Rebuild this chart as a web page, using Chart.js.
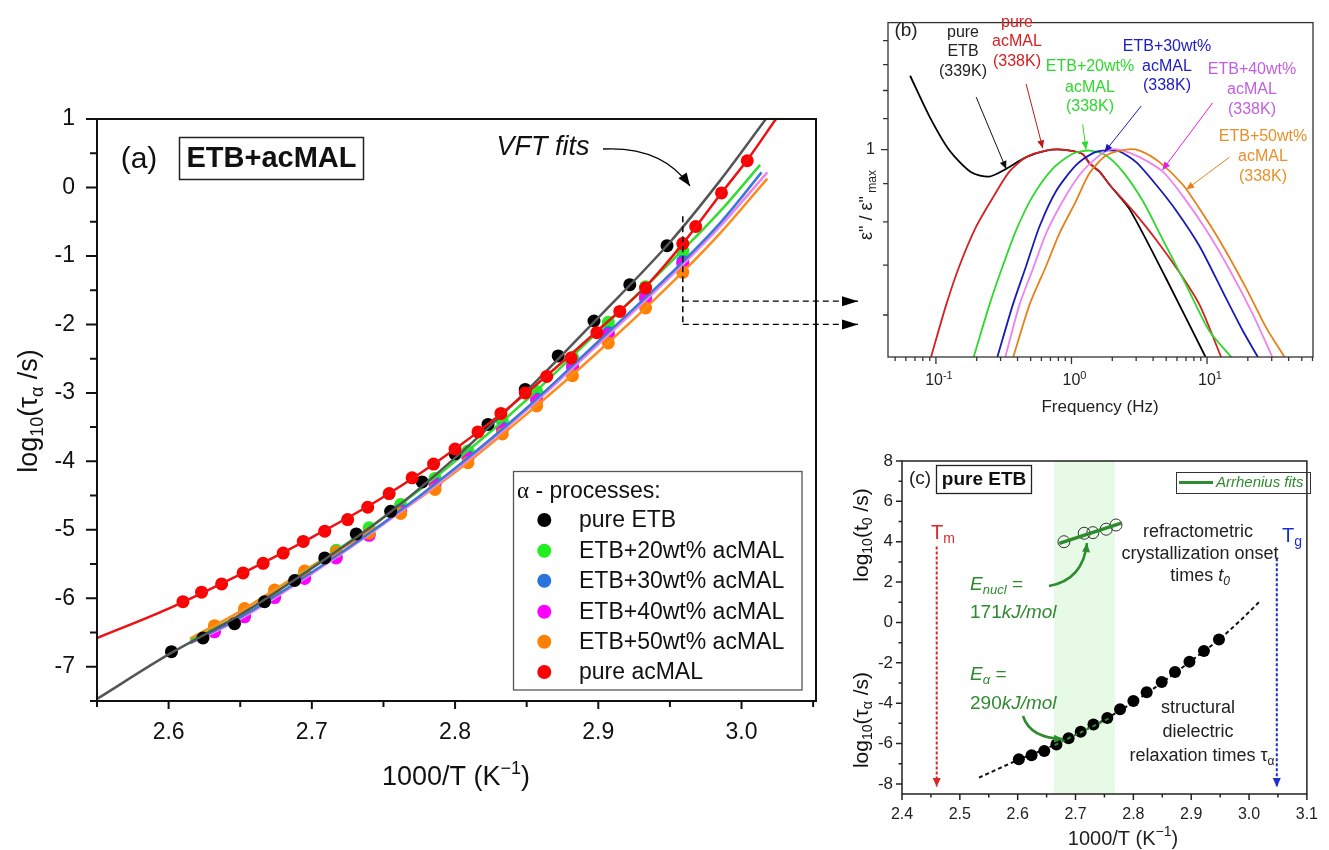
<!DOCTYPE html>
<html>
<head>
<meta charset="utf-8">
<script src="https://cdn.jsdelivr.net/npm/chart.js@4.4.1/dist/chart.umd.min.js"></script>
<style>
  html, body { margin: 0; padding: 0; background: #fff; }
  #wrap { position: relative; width: 1329px; height: 850px; }
  #wrap canvas { position: absolute; left: 0; top: 0; }
</style>
</head>
<body>
<div id="wrap">
  <canvas id="chartA" width="1329" height="850"></canvas>
  <canvas id="chartB" width="1329" height="850"></canvas>
  <canvas id="chartC" width="1329" height="850"></canvas>
</div>
<script>
const SANS = '"Liberation Sans", Arial, sans-serif';
const SERIF = '"Liberation Serif", "Times New Roman", serif';
const W = 1329, H = 850;

// ---------- (a) alpha relaxation map ----------
const seriesNames = ['pure ETB', 'ETB+20wt% acMAL', 'ETB+30wt% acMAL', 'ETB+40wt% acMAL', 'ETB+50wt% acMAL', 'pure acMAL'];
const dotColors = ['#000000', '#22ee22', '#2a72dc', '#ff00ff', '#ff8000', '#ff0000'];
const fitColors = ['#555555', '#33dd33', '#3a78d8', '#ee82ee', '#ff8c1a', '#ee1111'];

const etbX = [2.602, 2.624, 2.646, 2.667, 2.688, 2.709, 2.731, 2.755, 2.777, 2.800, 2.823, 2.849, 2.872, 2.897, 2.922, 2.948];
const etbY = [-6.78, -6.58, -6.37, -6.05, -5.74, -5.41, -5.06, -4.73, -4.30, -3.89, -3.46, -2.95, -2.46, -1.95, -1.42, -0.85];

const mixX = [2.632, 2.653, 2.674, 2.695, 2.717, 2.740, 2.762, 2.786, 2.809, 2.833, 2.857, 2.882, 2.907, 2.933, 2.959];
const mix20Y = [-6.43, -6.20, -5.92, -5.62, -5.30, -4.97, -4.63, -4.25, -3.85, -3.41, -2.98, -2.48, -1.97, -1.45, -0.93];
const mix30Y = [-6.48, -6.25, -5.97, -5.70, -5.40, -5.07, -4.71, -4.32, -3.93, -3.51, -3.09, -2.60, -2.12, -1.60, -1.08];
const mix40Y = [-6.49, -6.27, -5.99, -5.71, -5.41, -5.08, -4.73, -4.34, -3.95, -3.53, -3.11, -2.63, -2.15, -1.63, -1.11];
const mix50Y = [-6.40, -6.15, -5.88, -5.60, -5.32, -5.05, -4.76, -4.41, -4.02, -3.60, -3.19, -2.75, -2.27, -1.76, -1.24];

const malX = [2.610, 2.623, 2.637, 2.652, 2.666, 2.680, 2.694, 2.709, 2.725, 2.739, 2.754, 2.770, 2.785, 2.800, 2.816, 2.832, 2.849, 2.864, 2.881, 2.899, 2.915, 2.933, 2.959, 2.968, 2.986, 3.004];
const malY = [-6.05, -5.91, -5.79, -5.63, -5.49, -5.34, -5.17, -5.02, -4.85, -4.67, -4.47, -4.24, -4.04, -3.82, -3.57, -3.30, -3.00, -2.76, -2.49, -2.12, -1.81, -1.47, -0.82, -0.57, -0.08, 0.39];

// VFT fit curves
const etbFitX = [2.533, 2.55, 2.60, 2.65, 2.70, 2.75, 2.80, 2.85, 2.90, 2.95, 2.985, 3.017];
const etbFitY = [-7.69, -7.47, -6.82, -6.24, -5.56, -4.82, -3.95, -2.97, -1.90, -0.80, 0.10, 1.0];
const mix20FitX = [2.615, 2.65, 2.70, 2.75, 2.80, 2.85, 2.90, 2.95, 2.985, 3.013];
const mix20FitY = [-6.62, -6.24, -5.55, -4.82, -4.00, -3.10, -2.10, -1.10, -0.35, 0.33];
const mix30FitX = [2.615, 2.65, 2.70, 2.75, 2.80, 2.85, 2.90, 2.95, 2.985, 3.014];
const mix30FitY = [-6.65, -6.28, -5.62, -4.90, -4.10, -3.22, -2.25, -1.27, -0.52, 0.22];
const mix40FitX = [2.615, 2.65, 2.70, 2.75, 2.80, 2.85, 2.90, 2.95, 2.985, 3.018];
const mix40FitY = [-6.66, -6.30, -5.64, -4.92, -4.13, -3.25, -2.29, -1.31, -0.57, 0.22];
const mix50FitX = [2.615, 2.65, 2.70, 2.75, 2.80, 2.85, 2.90, 2.95, 2.985, 3.018];
const mix50FitY = [-6.59, -6.19, -5.53, -4.90, -4.16, -3.31, -2.40, -1.42, -0.67, 0.13];
const malFitX = [2.55, 2.60, 2.65, 2.70, 2.75, 2.80, 2.85, 2.90, 2.933, 2.959, 2.986, 3.004, 3.024];
const malFitY = [-6.58, -6.15, -5.65, -5.11, -4.52, -3.82, -3.00, -2.08, -1.45, -0.82, -0.08, 0.40, 1.0];

// ---------- (b) normalised loss spectra ----------
const specEtbF = [0.0645, 0.0895, 0.126, 0.182, 0.248, 0.330, 0.463, 0.65, 0.85, 1.2, 1.36, 1.61, 1.91, 2.68, 5.0, 9.75];
const specEtbE = [1.256, 1.108, 0.997, 0.932, 0.920, 0.942, 0.977, 0.997, 1.0, 0.987, 0.958, 0.934, 0.897, 0.832, 0.671, 0.527];
const specMalF = [0.092, 0.119, 0.149, 0.198, 0.263, 0.348, 0.463, 0.65, 0.85, 1.2, 1.36, 1.61, 1.91, 2.83, 4.21, 6.27, 8.81, 12.7];
const specMalE = [0.527, 0.619, 0.698, 0.788, 0.862, 0.934, 0.977, 0.997, 1.0, 0.987, 0.958, 0.934, 0.897, 0.828, 0.757, 0.684, 0.619, 0.527];
const spec20F = [0.190, 0.248, 0.311, 0.391, 0.518, 0.728, 1.02, 1.36, 1.80, 2.39, 3.36, 4.72, 7.02, 10.4, 15.1];
const spec20E = [0.527, 0.619, 0.698, 0.780, 0.866, 0.943, 0.987, 0.997, 0.982, 0.934, 0.853, 0.757, 0.658, 0.571, 0.527];
const spec30F = [0.284, 0.369, 0.463, 0.580, 0.771, 1.08, 1.44, 1.70, 2.26, 3.0, 4.21, 5.93, 8.81, 13.1, 18.4, 23.7];
const spec30E = [0.527, 0.619, 0.698, 0.788, 0.880, 0.953, 0.989, 0.997, 0.994, 0.962, 0.897, 0.828, 0.742, 0.644, 0.571, 0.527];
const spec40F = [0.325, 0.413, 0.518, 0.650, 0.863, 1.15, 1.52, 1.91, 2.39, 3.18, 4.72, 6.63, 9.86, 14.6, 21.8, 30.3];
const spec40E = [0.527, 0.619, 0.691, 0.772, 0.853, 0.925, 0.974, 1.0, 0.997, 0.977, 0.934, 0.866, 0.780, 0.691, 0.601, 0.527];
const spec50F = [0.372, 0.490, 0.650, 0.815, 1.08, 1.36, 1.80, 2.53, 3.18, 4.46, 6.63, 9.31, 13.1, 19.5, 27.3, 37.3];
const spec50E = [0.527, 0.619, 0.698, 0.772, 0.853, 0.930, 0.982, 1.0, 0.997, 0.962, 0.897, 0.820, 0.742, 0.651, 0.577, 0.527];
const freqDecades = [0.1, 1, 10];
const freqExponents = ['-1', '0', '1'];

// ---------- (c) pure ETB: crystallization onset and tau_alpha ----------
const onsetX = [2.680, 2.715, 2.730, 2.753, 2.770];
const onsetY = [4.00, 4.42, 4.45, 4.62, 4.83];
const nuclFitX = [2.672, 2.779];
const nuclFitY = [3.92, 4.92];
const alphaFitX = [2.664, 2.762];
const alphaFitY = [-6.08, -4.70];
const bandRange = [2.663, 2.768];
const tmX = 2.46, tgX = 3.048;

// ---------- helpers ----------
const pts = (xs, ys) => xs.map((x, i) => ({ x, y: ys[i] }));
const tickList = vals => vals.map(value => ({ value }));
const range = (a, b, s) => { const out = []; for (let v = a; v <= b + 1e-9; v += s) out.push(+v.toFixed(3)); return out; };

function rich(ctx, segs, x, y, size, o = {}) {
  const fontOf = s => {
    const f = s[1] || {};
    const sz = f.sub || f.sup ? Math.round(size * 0.68) : size;
    return `${f.i || o.italic ? 'italic ' : ''}${f.b || o.bold ? 'bold ' : ''}${sz}px ${f.serif ? SERIF : SANS}`;
  };
  let w = 0;
  segs.forEach(s => { ctx.font = fontOf(s); w += ctx.measureText(s[0]).width; });
  ctx.save();
  ctx.translate(x, y);
  if (o.rotate) ctx.rotate(-Math.PI / 2);
  ctx.fillStyle = o.color || '#111';
  ctx.textAlign = 'left';
  ctx.textBaseline = 'middle';
  let cx = o.align === 'left' ? 0 : -w / 2;
  segs.forEach(s => {
    const f = s[1] || {};
    ctx.font = fontOf(s);
    const dy = f.sub ? size * 0.3 : f.sup ? -size * 0.33 : 0;
    ctx.fillText(s[0], cx, dy);
    cx += ctx.measureText(s[0]).width;
  });
  ctx.restore();
  return w;
}

function head(ctx, x, y, ang, len, half) {
  const c = Math.cos(ang), s = Math.sin(ang);
  ctx.beginPath();
  ctx.moveTo(x, y);
  ctx.lineTo(x - len * c + half * s, y - len * s - half * c);
  ctx.lineTo(x - len * c - half * s, y - len * s + half * c);
  ctx.closePath();
  ctx.fill();
}

function arrow(ctx, x0, y0, x1, y1, o = {}) {
  ctx.save();
  ctx.strokeStyle = ctx.fillStyle = o.color || '#000';
  ctx.lineWidth = o.width || 1;
  if (o.dash) ctx.setLineDash(o.dash);
  const len = o.head || 8, half = o.headW || len * 0.4;
  let ang;
  ctx.beginPath();
  ctx.moveTo(x0, y0);
  if (o.cx !== undefined) {
    ctx.quadraticCurveTo(o.cx, o.cy, x1, y1);
    ang = Math.atan2(y1 - o.cy, x1 - o.cx);
  } else {
    ctx.lineTo(x1, y1);
    ang = Math.atan2(y1 - y0, x1 - x0);
  }
  ctx.stroke();
  ctx.setLineDash([]);
  head(ctx, x1, y1, ang, len, half);
  ctx.restore();
}

function text(ctx, str, x, y, size, o = {}) {
  ctx.save();
  ctx.font = `${o.italic ? 'italic ' : ''}${o.bold ? 'bold ' : ''}${size}px ${SANS}`;
  ctx.fillStyle = o.color || '#111';
  ctx.textAlign = o.align || 'center';
  ctx.textBaseline = 'middle';
  ctx.fillText(str, x, y);
  ctx.restore();
}

// frame box plus outward major/minor ticks on bottom and left
function axisFrame(spec) {
  return {
    id: 'axisFrame',
    afterDraw(chart) {
      const { ctx, chartArea: a, scales } = chart;
      ctx.save();
      ctx.strokeStyle = spec.color;
      ctx.lineWidth = spec.width;
      ctx.strokeRect(a.left, a.top, a.right - a.left, a.bottom - a.top);
      ctx.beginPath();
      const xt = (vals, len) => vals.forEach(v => {
        const p = scales.x.getPixelForValue(v);
        ctx.moveTo(p, a.bottom); ctx.lineTo(p, a.bottom + len);
      });
      const yt = (vals, len) => vals.forEach(v => {
        const p = scales.y.getPixelForValue(v);
        ctx.moveTo(a.left, p); ctx.lineTo(a.left - len, p);
      });
      xt(spec.x.major, spec.x.majorLen); xt(spec.x.minor, spec.x.minorLen);
      yt(spec.y.major, spec.y.majorLen); yt(spec.y.minor, spec.y.minorLen);
      ctx.stroke();
      ctx.restore();
    }
  };
}

// fixed-size axis boxes so each plot area lands where it should on the page
function axes(xh, xOpt, yOpt) {
  const common = { grid: { display: false, drawTicks: false }, border: { display: false } };
  return {
    x: Object.assign({}, common, { afterFit: s => { s.height = xh; } }, xOpt),
    y: Object.assign({}, common, { afterFit: s => { s.width = 60; } }, yOpt)
  };
}

function baseOptions(area, xh, scales) {
  return {
    responsive: false,
    animation: false,
    events: [],
    layout: { padding: { left: area.left - 60, top: area.top, right: W - area.right, bottom: H - area.bottom - xh } },
    plugins: { legend: { display: false }, tooltip: { enabled: false } },
    scales
  };
}

const fitSet = (xs, ys, color, order, extra) => Object.assign({
  data: pts(xs, ys), showLine: true, borderColor: color, borderWidth: 2.5,
  pointRadius: 0, cubicInterpolationMode: 'monotone', order
}, extra || {});
const dotSet = (xs, ys, color, order, extra) => Object.assign({
  data: pts(xs, ys), showLine: false, backgroundColor: color, borderWidth: 0,
  pointRadius: 6.5, order
}, extra || {});

// ================= chart (a) =================
const areaA = { left: 97, top: 119, right: 816, bottom: 701 };

const annotA = {
  id: 'annotA',
  afterDraw(chart) {
    const { ctx, scales: { x, y } } = chart;
    // axis titles
    rich(ctx, [['log'], ['10', { sub: 1 }], ['(τ'], ['α', { sub: 1 }], [' /s)']], 30, 411, 27, { rotate: true });
    rich(ctx, [['1000/T (K'], ['−1', { sup: 1 }], [')']], 456, 778, 27);

    // panel tag and sample box
    text(ctx, '(a)', 139, 160, 30);
    ctx.save();
    ctx.strokeStyle = '#222'; ctx.lineWidth = 1.5;
    ctx.strokeRect(179.5, 137.5, 184, 42);
    ctx.restore();
    text(ctx, 'ETB+acMAL', 271.5, 159, 29, { bold: true });

    // VFT label with curved arrow
    text(ctx, 'VFT fits', 543, 147, 27, { italic: true });
    arrow(ctx, 603, 149, 690, 186, { cx: 662, cy: 146, width: 1.3, head: 13, headW: 5 });

    // dashed guide at 338 K pointing to the spectra
    const xv = x.getPixelForValue(2.959);
    ctx.save();
    ctx.strokeStyle = '#111'; ctx.lineWidth = 1.6; ctx.setLineDash([6, 4]);
    ctx.beginPath();
    ctx.moveTo(xv, y.getPixelForValue(-0.42)); ctx.lineTo(xv, y.getPixelForValue(-2.0));
    ctx.stroke();
    ctx.restore();
    [-1.66, -2.0].forEach(v => {
      const py = y.getPixelForValue(v);
      arrow(ctx, xv, py, 858, py, { width: 1.4, dash: [6, 4], head: 16, headW: 5 });
    });

    // legend
    ctx.save();
    ctx.strokeStyle = '#555'; ctx.lineWidth = 1.3;
    ctx.strokeRect(513.5, 471.5, 288.5, 218.5);
    ctx.restore();
    rich(ctx, [['α', { serif: 1 }], [' - processes:']], 517, 492, 23, { align: 'left' });
    const rowY = [520, 550.7, 580.7, 611.7, 641.7, 672];
    seriesNames.forEach((name, i) => {
      ctx.save();
      ctx.fillStyle = dotColors[i];
      ctx.beginPath(); ctx.arc(544.3, rowY[i], 7, 0, Math.PI * 2); ctx.fill();
      ctx.restore();
      text(ctx, name, 579, rowY[i] + 1, 23, { align: 'left' });
    });
  }
};

new Chart(document.getElementById('chartA'), {
  type: 'scatter',
  data: {
    datasets: [
      fitSet(malFitX, malFitY, fitColors[5], 0),
      dotSet(malX, malY, dotColors[5], 1),
      fitSet(etbFitX, etbFitY, fitColors[0], 2),
      dotSet(etbX, etbY, dotColors[0], 3),
      fitSet(mix20FitX, mix20FitY, fitColors[1], 4),
      fitSet(mix30FitX, mix30FitY, fitColors[2], 5),
      fitSet(mix40FitX, mix40FitY, fitColors[3], 6),
      fitSet(mix50FitX, mix50FitY, fitColors[4], 7),
      dotSet(mixX, mix50Y, dotColors[4], 8),
      dotSet(mixX, mix40Y, dotColors[3], 9),
      dotSet(mixX, mix30Y, dotColors[2], 10),
      dotSet(mixX, mix20Y, dotColors[1], 11)
    ]
  },
  options: baseOptions(areaA, 60, axes(60,
    {
      type: 'linear', min: 2.55, max: 3.052,
      afterBuildTicks: s => { s.ticks = tickList([2.6, 2.7, 2.8, 2.9, 3.0]); },
      ticks: { autoSkip: false, maxRotation: 0, padding: 18, color: '#111',
               font: { family: SANS, size: 23 }, callback: v => v.toFixed(1) }
    },
    {
      type: 'linear', min: -7.5, max: 1,
      afterBuildTicks: s => { s.ticks = tickList(range(-7, 1, 1)); },
      ticks: { padding: 22, color: '#111', font: { family: SANS, size: 23 }, callback: v => String(v) }
    })),
  plugins: [axisFrame({
    color: '#111', width: 2,
    x: { major: [2.6, 2.7, 2.8, 2.9, 3.0], minor: [2.55, 2.65, 2.75, 2.85, 2.95, 3.05], majorLen: 8, minorLen: 6 },
    y: { major: range(-7, 1, 1), minor: range(-7.5, 0.5, 1), majorLen: 11, minorLen: 7 }
  }), annotA]
});

// ================= chart (b) =================
const areaB = { left: 888, top: 13, right: 1313, bottom: 357 };
const specColors = ['#000000', '#d42020', '#2ed82e', '#1a1ab8', '#ee82ee', '#e8801a'];
const labelColors = ['#222222', '#d42020', '#2ed82e', '#2020c0', '#c060e0', '#e8902a'];

const annotB = {
  id: 'annotB',
  afterDraw(chart) {
    const { ctx, scales: { x, y } } = chart;
    rich(ctx, [['ε" / ε"'], [' max', { sub: 1 }]], 867, 205, 18, { rotate: true, color: '#222' });
    text(ctx, 'Frequency (Hz)', 1100, 407, 17, { color: '#222' });
    text(ctx, '(b)', 906, 31, 19, { color: '#222' });

    // decade labels with raised exponents
    freqDecades.forEach((v, i) => {
      rich(ctx, [['10'], [freqExponents[i], { sup: 1 }]], x.getPixelForValue(v) + 3, 381, 16, { color: '#222' });
    });

    const blocks = [
      { c: labelColors[0], x: 963, ys: [33, 52, 72], t: ['pure', 'ETB', '(339K)'] },
      { c: labelColors[1], x: 1017, ys: [23, 42, 62], t: ['pure', 'acMAL', '(338K)'] },
      { c: labelColors[2], x: 1090, ys: [67, 88, 107], t: ['ETB+20wt%', 'acMAL', '(338K)'] },
      { c: labelColors[3], x: 1167, ys: [47, 67, 86], t: ['ETB+30wt%', 'acMAL', '(338K)'] },
      { c: labelColors[4], x: 1252, ys: [70, 90, 110], t: ['ETB+40wt%', 'acMAL', '(338K)'] },
      { c: labelColors[5], x: 1263, ys: [137, 157, 177], t: ['ETB+50wt%', 'acMAL', '(338K)'] }
    ];
    blocks.forEach(b => b.t.forEach((s, i) => text(ctx, s, b.x, b.ys[i], 16, { color: b.c })));

    // pointers from labels to peaks: [tailF, tailE, tipF, tipE]
    const ptrs = [
      [0.198, 1.176, 0.330, 0.942, '#111'],
      [0.463, 1.224, 0.614, 1.004, '#c01818'],
      [1.21, 1.081, 1.28, 1.0, '#2ed82e'],
      [3.27, 1.144, 1.75, 0.992, '#1a1ab8'],
      [10.98, 1.155, 4.69, 0.939, '#e020e0'],
      [14.66, 0.977, 7.02, 0.884, '#e8801a']
    ];
    ptrs.forEach(p => arrow(ctx, x.getPixelForValue(p[0]), y.getPixelForValue(p[1]),
      x.getPixelForValue(p[2]), y.getPixelForValue(p[3]), { color: p[4], width: 1, head: 8, headW: 3.5 }));
  }
};

const specSet = (fs, es, color, order) => ({
  data: pts(fs, es), showLine: true, borderColor: color, borderWidth: 1.8,
  pointRadius: 0, tension: 0.25, order
});

new Chart(document.getElementById('chartB'), {
  type: 'scatter',
  data: {
    datasets: [
      specSet(specEtbF, specEtbE, specColors[0], 5),
      specSet(specMalF, specMalE, specColors[1], 4),
      specSet(spec20F, spec20E, specColors[2], 3),
      specSet(spec30F, spec30E, specColors[3], 2),
      specSet(spec40F, spec40E, specColors[4], 1),
      specSet(spec50F, spec50E, specColors[5], 0)
    ]
  },
  options: baseOptions(areaB, 40, axes(40,
    {
      type: 'logarithmic', min: 0.0443, max: 60.5,
      afterBuildTicks: s => { s.ticks = tickList(freqDecades); },
      ticks: { display: false }
    },
    {
      type: 'logarithmic', min: 0.527, max: 1.48,
      afterBuildTicks: s => { s.ticks = tickList([1]); },
      ticks: { padding: 13, color: '#222', font: { family: SANS, size: 16 }, callback: () => '1' }
    })),
  plugins: [axisFrame({
    color: '#333', width: 1.3,
    x: { major: freqDecades,
         minor: [0.05, 0.06, 0.07, 0.08, 0.09, 0.2, 0.3, 0.4, 0.5, 0.6, 0.7, 0.8, 0.9, 2, 3, 4, 5, 6, 7, 8, 9, 20, 30, 40, 50, 60],
         majorLen: 7, minorLen: 4 },
    y: { major: [1], minor: [0.6, 0.7, 0.8, 0.9, 1.1, 1.2, 1.3, 1.4], majorLen: 7, minorLen: 5 }
  }), annotB]
});

// ================= chart (c) =================
const areaC = { left: 902, top: 461, right: 1317, bottom: 794 };
const GREEN = '#2e8b2e';

const annotC = {
  id: 'annotC',
  beforeDatasetsDraw(chart) {
    const { ctx, chartArea: a, scales: { x, y } } = chart;
    const x0 = x.getPixelForValue(bandRange[0]), x1 = x.getPixelForValue(bandRange[1]);
    ctx.save();
    ctx.fillStyle = 'rgba(150, 235, 150, 0.24)';
    ctx.fillRect(x0, a.top, x1 - x0, a.bottom - a.top);
    ctx.restore();
    // melting and glass transition markers
    [[tmX, 3.76, '#d62828'], [tgX, 3.18, '#1a2fd0']].forEach(([xv, top, c]) => {
      const px = x.getPixelForValue(xv);
      arrow(ctx, px, y.getPixelForValue(top), px, y.getPixelForValue(-8.15),
        { color: c, width: 2, dash: [3, 2], head: 9, headW: 4 });
    });
  },
  afterDraw(chart) {
    const { ctx } = chart;
    rich(ctx, [['log'], ['10', { sub: 1 }], ['(t'], ['0', { sub: 1 }], [' /s)']], 862, 535, 21, { rotate: true });
    rich(ctx, [['log'], ['10', { sub: 1 }], ['(τ'], ['α', { sub: 1 }], [' /s)']], 862, 720, 21, { rotate: true });
    rich(ctx, [['1000/T (K'], ['−1', { sup: 1 }], [')']], 1123, 839, 20, { color: '#222' });

    text(ctx, '(c)', 920, 479, 19, { color: '#222' });
    ctx.save();
    ctx.strokeStyle = '#222'; ctx.lineWidth = 1.3;
    ctx.strokeRect(936.5, 465.5, 95, 28);
    ctx.restore();
    text(ctx, 'pure ETB', 984, 480, 19, { bold: true });

    // Arrhenius legend box
    ctx.save();
    ctx.strokeStyle = '#333'; ctx.lineWidth = 1;
    ctx.strokeRect(1176.5, 472.5, 134, 21);
    ctx.strokeStyle = GREEN; ctx.lineWidth = 3;
    ctx.beginPath(); ctx.moveTo(1179, 482.5); ctx.lineTo(1213, 482.5); ctx.stroke();
    ctx.restore();
    text(ctx, 'Arrhenius fits', 1216, 483, 15, { italic: true, color: GREEN, align: 'left' });

    rich(ctx, [['T'], ['m', { sub: 1 }]], 931, 533, 20, { color: '#d62828', align: 'left' });
    rich(ctx, [['T'], ['g', { sub: 1 }]], 1282, 536, 20, { color: '#1a2fd0', align: 'left' });

    text(ctx, 'refractometric', 1198, 532, 18, { color: '#222' });
    text(ctx, 'crystallization onset', 1200, 554, 18, { color: '#222' });
    rich(ctx, [['times '], ['t', { i: 1 }], ['0', { i: 1, sub: 1 }]], 1200, 576, 18, { color: '#222' });
    text(ctx, 'structural', 1198, 708, 18, { color: '#222' });
    text(ctx, 'dielectric', 1198, 732, 18, { color: '#222' });
    rich(ctx, [['relaxation times τ'], ['α', { sub: 1 }]], 1202, 756, 18, { color: '#222' });

    rich(ctx, [['E', { i: 1 }], ['nucl', { i: 1, sub: 1 }], [' =', { i: 1 }]], 970, 585, 19, { color: GREEN, align: 'left' });
    rich(ctx, [['171'], ['kJ/mol', { i: 1 }]], 970, 613, 19, { color: GREEN, align: 'left' });
    rich(ctx, [['E', { i: 1 }], ['α', { i: 1, sub: 1 }], [' =', { i: 1 }]], 970, 675, 19, { color: GREEN, align: 'left' });
    rich(ctx, [['290'], ['kJ/mol', { i: 1 }]], 970, 704, 19, { color: GREEN, align: 'left' });
    arrow(ctx, 1049, 586, 1087, 543, { cx: 1083, cy: 580, color: GREEN, width: 2.5, head: 9, headW: 4 });
    arrow(ctx, 1023, 716, 1063, 739, { cx: 1030, cy: 738, color: GREEN, width: 2.5, head: 9, headW: 4 });
  }
};

new Chart(document.getElementById('chartC'), {
  type: 'scatter',
  data: {
    datasets: [
      fitSet(nuclFitX, nuclFitY, GREEN, 0, { borderWidth: 3.5, cubicInterpolationMode: 'default' }),
      fitSet(alphaFitX, alphaFitY, GREEN, 1, { borderWidth: 2, borderDash: [4, 3], cubicInterpolationMode: 'default' }),
      dotSet(onsetX, onsetY, 'rgba(0,0,0,0)', 2, { borderColor: '#333', borderWidth: 1, pointRadius: 6 }),
      dotSet(etbX, etbY, '#000', 3, { pointRadius: 6 }),
      fitSet(etbFitX, etbFitY, '#111', 4, { borderWidth: 2, borderDash: [4, 3] })
    ]
  },
  options: baseOptions(areaC, 50, axes(50,
    {
      type: 'linear', min: 2.4, max: 3.1,
      afterBuildTicks: s => { s.ticks = tickList(range(2.4, 3.1, 0.1)); },
      ticks: { autoSkip: false, maxRotation: 0, padding: 11, color: '#222',
               font: { family: SANS, size: 16 }, callback: v => v.toFixed(1) }
    },
    {
      type: 'linear', min: -8.5, max: 8,
      afterBuildTicks: s => { s.ticks = tickList(range(-8, 8, 2)); },
      ticks: { padding: 9, color: '#222', font: { family: SANS, size: 17 }, callback: v => String(v) }
    })),
  plugins: [axisFrame({
    color: '#222', width: 1.5,
    x: { major: range(2.4, 3.1, 0.1), minor: range(2.45, 3.05, 0.1), majorLen: 6, minorLen: 3.5 },
    y: { major: range(-8, 8, 2), minor: range(-7, 7, 2), majorLen: 6, minorLen: 3.5 }
  }), annotC]
});
</script>
</body>
</html>
